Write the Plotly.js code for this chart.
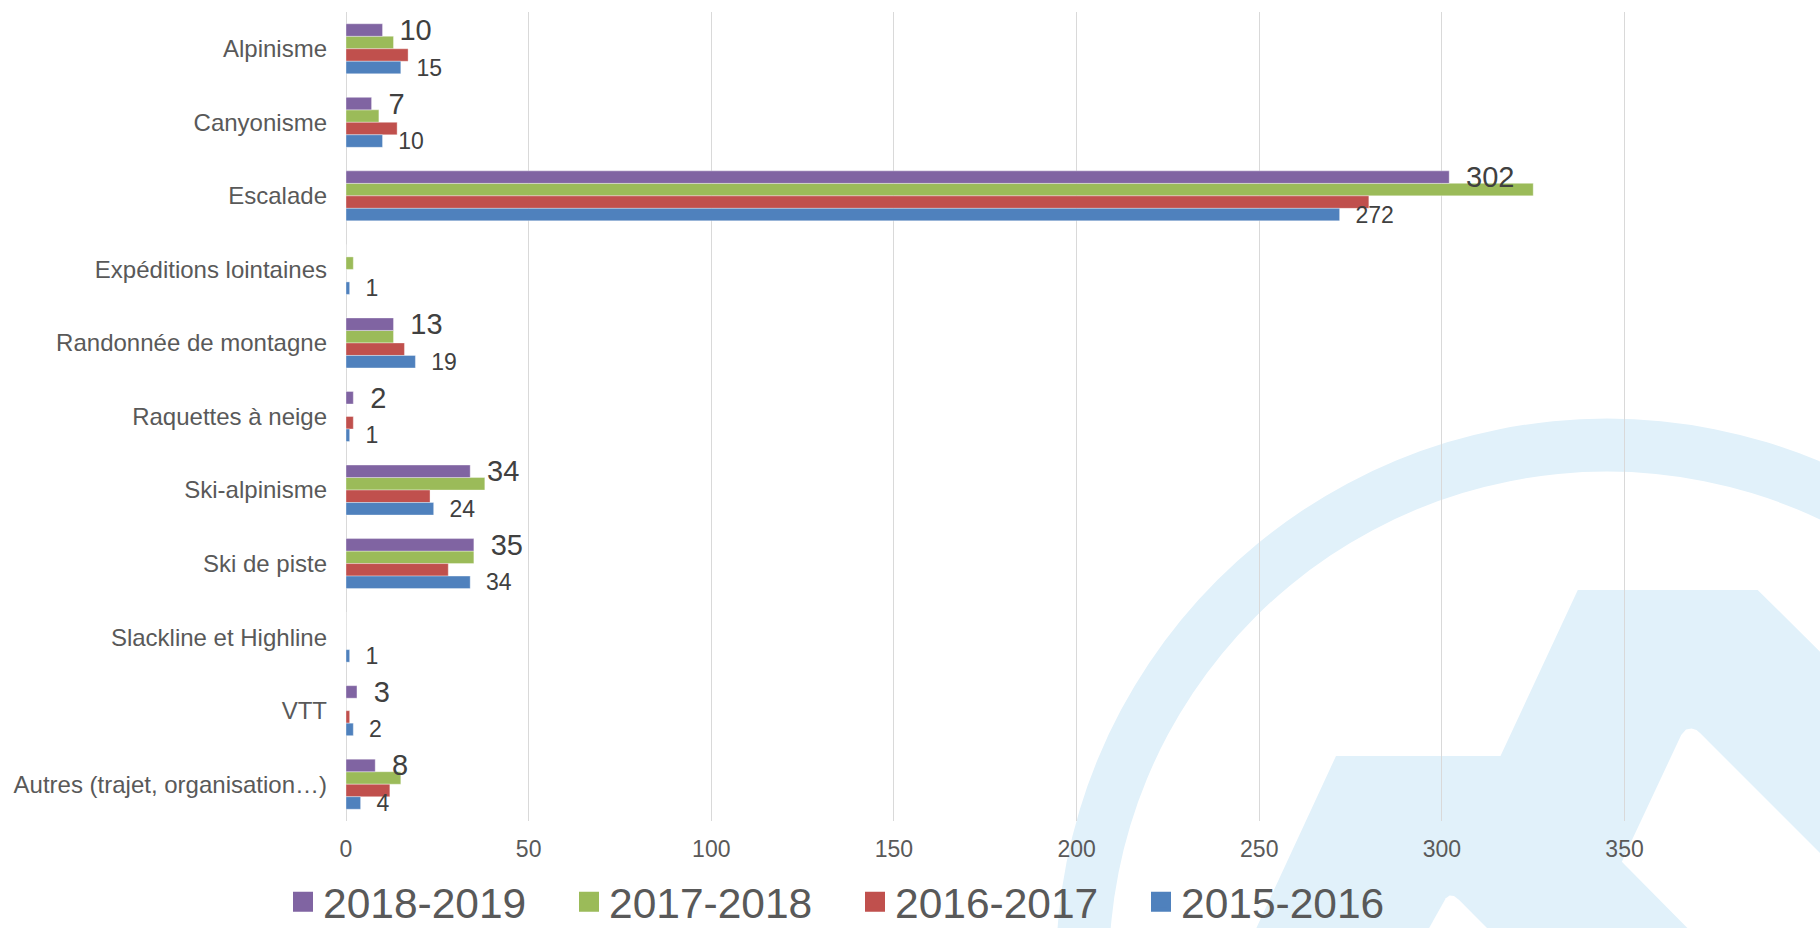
<!DOCTYPE html>
<html>
<head>
<meta charset="utf-8">
<script src="https://cdn.plot.ly/plotly-3.0.1.min.js"></script>
<style>
  html, body { margin: 0; padding: 0; background: #ffffff; }
  #chart { width: 1820px; height: 928px; }
</style>
</head>
<body>
<div id="chart"></div>
<script>
// ---- data ----
const categories = [
  "Alpinisme",
  "Canyonisme",
  "Escalade",
  "Expéditions lointaines",
  "Randonnée de montagne",
  "Raquettes à neige",
  "Ski-alpinisme",
  "Ski de piste",
  "Slackline et Highline",
  "VTT",
  "Autres (trajet, organisation…)"
];
const seriesNames = ["2018-2019", "2017-2018", "2016-2017", "2015-2016"];
const values2018_2019 = [10, 7, 302, 0, 13, 2, 34, 35, 0, 3, 8];
const values2017_2018 = [13, 9, 325, 2, 13, 0, 38, 35, 0, 0, 15];
const values2016_2017 = [17, 14, 280, 0, 16, 2, 23, 28, 0, 1, 12];
const values2015_2016 = [15, 10, 272, 1, 19, 1, 24, 34, 1, 2, 4];
const xTickValues = [0, 50, 100, 150, 200, 250, 300, 350];

// ---- layout geometry ----
const W = 1820, H = 928;
const M = { l: 346, r: 0, t: 12, b: 107 };
const plotW = W - M.l - M.r, plotH = H - M.t - M.b;
const pxPerUnit = 3.653;
const xMax = plotW / pxPerUnit;

const colors = { p: "#8064A2", g: "#9BBB59", r: "#C0504D", b: "#4F81BD" };
const barW = 0.17;
const fontFam = "'Liberation Sans', Arial, sans-serif";

function labels(vals, pad) {
  return vals.map(v => (v > 0 ? pad + v : ""));
}

function barTrace(name, vals, color, offset, showText, fontSize, pad) {
  return {
    type: "bar",
    orientation: "h",
    name: name,
    y: categories,
    x: vals,
    offset: offset,
    width: barW,
    marker: { color: color, line: { color: "rgba(255,255,255,0.45)", width: 0.8 } },
    text: showText ? labels(vals, pad) : undefined,
    textposition: showText ? "outside" : "none",
    textfont: { family: fontFam, size: fontSize, color: "#404040" },
    constraintext: "none",
    cliponaxis: false,
    showlegend: false,
    hoverinfo: "x+name"
  };
}

// legend entries (square swatches), no data of their own
function legendTrace(name, color, rank) {
  return {
    type: "scatter", mode: "markers", name: name,
    x: [null], y: [null],
    marker: { symbol: "square", size: 16, color: color, line: { color: color, width: 4 } },
    legendrank: rank, showlegend: true, hoverinfo: "skip"
  };
}

// draw order chosen so that labels sit above the neighbouring bars
const traces = [
  barTrace(seriesNames[1], values2017_2018, colors.g, -0.17, false, 24, ""),
  barTrace(seriesNames[2], values2016_2017, colors.r, 0.0, false, 24, ""),
  barTrace(seriesNames[0], values2018_2019, colors.p, -0.34, true, 29, "\u00a0\u2009"),
  barTrace(seriesNames[3], values2015_2016, colors.b, 0.17, true, 23, "\u00a0\u00a0"),
  legendTrace(seriesNames[0], colors.p, 1),
  legendTrace(seriesNames[1], colors.g, 2),
  legendTrace(seriesNames[2], colors.r, 3),
  legendTrace(seriesNames[3], colors.b, 4)
];

// ---- background watermark (decoration, pixel -> paper) ----
const X = x => (x - M.l) / plotW;
const Y = y => (H - M.b - y) / plotH;
const wm = "#E1F1FA";
function poly(pts) {
  return pts.map((p, i) => (i === 0 ? "M" : "L") + X(p[0]).toFixed(5) + "," + Y(p[1]).toFixed(5)).join(" ") + " Z";
}
function circle(cx, cy, r, fill) {
  return {
    type: "circle", xref: "paper", yref: "paper", layer: "below",
    x0: X(cx - r), x1: X(cx + r), y0: Y(cy + r), y1: Y(cy - r),
    fillcolor: fill, line: { width: 0 }
  };
}
const shapes = [
  circle(1607, 969.6, 551, wm),
  circle(1607, 969.6, 498, "#ffffff"),
  { type: "path", xref: "paper", yref: "paper", layer: "below", fillcolor: wm, line: { width: 0 },
    path: poly([[1241, 962], [1256.4, 928], [1336, 756], [1500.5, 756], [1577.8, 590], [1757.7, 590], [1900, 731], [1900, 962]]) },
  { type: "path", xref: "paper", yref: "paper", layer: "below", fillcolor: "#ffffff", line: { width: 0 },
    path: poly([[1621.8, 861.7], [1681.2, 735], [1686, 729.5], [1691.5, 728.5], [1696.5, 730], [1700.3, 733.3], [1900, 933], [1900, 962], [1721, 962]]) },
  { type: "path", xref: "paper", yref: "paper", layer: "below", fillcolor: "#ffffff", line: { width: 0 },
    path: poly([[1410, 962], [1445.8, 898.3], [1449.6, 895.5], [1454, 896], [1459.2, 900], [1520.7, 962]]) }
];

const layout = {
  width: W, height: H,
  margin: M,
  paper_bgcolor: "#ffffff",
  plot_bgcolor: "rgba(0,0,0,0)",
  barmode: "overlay",
  font: { family: fontFam, color: "#595959" },
  showlegend: true,
  legend: {
    orientation: "h",
    xref: "container", yref: "container",
    x: 283 / W, xanchor: "left",
    y: (H - 902) / H, yanchor: "middle",
    bgcolor: "rgba(0,0,0,0)",
    font: { family: fontFam, size: 42.5, color: "#595959" },
    entrywidth: 241,
    itemsizing: "trace",
    traceorder: "normal"
  },
  xaxis: {
    range: [0, xMax],
    tickvals: xTickValues,
    ticktext: xTickValues.map(String),
    showgrid: true, gridcolor: "#D9D9D9", gridwidth: 1,
    zeroline: true, zerolinecolor: "#D9D9D9", zerolinewidth: 1,
    showline: false, ticks: "",
    ticklabelstandoff: 12,
    tickfont: { family: fontFam, size: 23, color: "#595959" },
    fixedrange: true
  },
  yaxis: {
    type: "category",
    categoryorder: "array",
    categoryarray: categories,
    autorange: "reversed",
    showgrid: false, zeroline: false, showline: false, ticks: "",
    ticklabelstandoff: 18,
    tickfont: { family: fontFam, size: 24, color: "#595959" },
    fixedrange: true
  },
  shapes: shapes
};

Plotly.newPlot("chart", traces, layout, { displayModeBar: false, staticPlot: true });
</script>
</body>
</html>
